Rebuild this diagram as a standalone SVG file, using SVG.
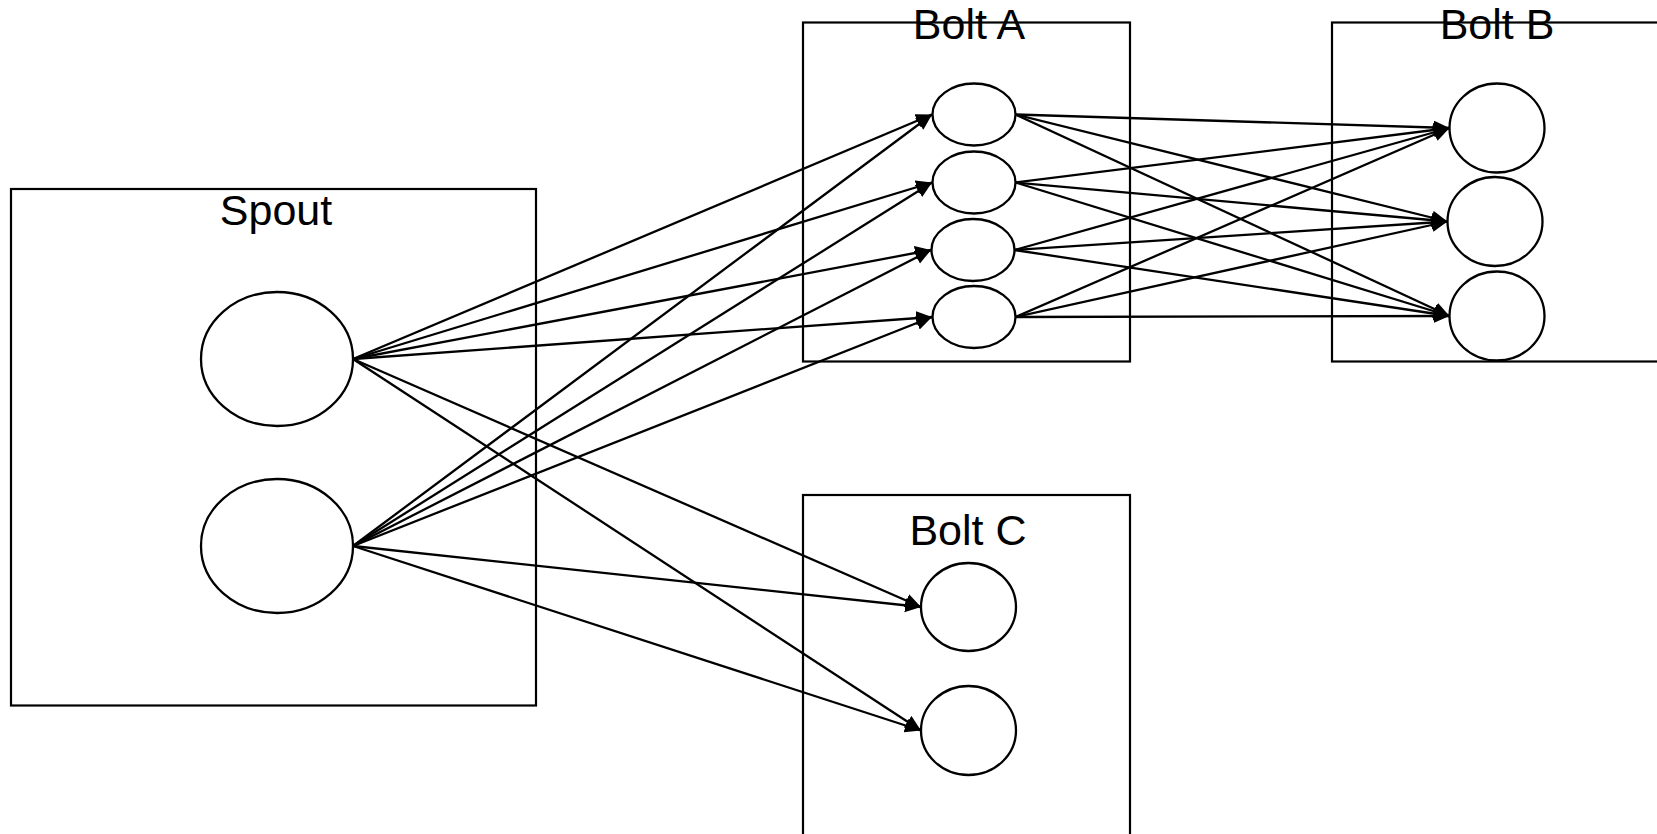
<svg xmlns="http://www.w3.org/2000/svg" width="1657" height="834" viewBox="0 0 1657 834">
<style>
.box{fill:none;stroke:#000;stroke-width:2.2}
.nd{fill:#fff;stroke:#000;stroke-width:2.3}
.lbl{font-family:"Liberation Sans",Arial,sans-serif;font-size:43px;fill:#000;text-anchor:middle}
.cn line{stroke:#000;stroke-width:2.3;marker-end:url(#ah)}
</style>
<defs>
<marker id="ah" markerUnits="userSpaceOnUse" markerWidth="17" markerHeight="15" refX="16" refY="7" orient="auto">
<path d="M0,0 L16,7 L0,14 z" fill="#000"/>
</marker>
</defs>
<rect width="1657" height="834" fill="#fff"/>
<g id="spout">
<rect class="box" x="11" y="189" width="525" height="516.5"/>
<text class="lbl" x="276" y="225">Spout</text>
<ellipse id="s1" class="nd" cx="277" cy="359" rx="76" ry="67"/>
<ellipse id="s2" class="nd" cx="277" cy="546" rx="76" ry="67"/>
</g>
<g id="boltA">
<rect class="box" x="803" y="22.5" width="327" height="339"/>
<text class="lbl" x="969" y="39">Bolt A</text>
<ellipse id="a1" class="nd" cx="974" cy="114.5" rx="41.5" ry="31"/>
<ellipse id="a2" class="nd" cx="974" cy="182.5" rx="41.5" ry="31"/>
<ellipse id="a3" class="nd" cx="973" cy="250" rx="41.5" ry="31"/>
<ellipse id="a4" class="nd" cx="974" cy="317" rx="41.5" ry="31"/>
</g>
<g id="boltB">
<rect class="box" x="1332" y="22.5" width="330" height="339"/>
<text class="lbl" x="1497" y="39">Bolt B</text>
<ellipse id="b1" class="nd" cx="1497" cy="128" rx="47.5" ry="44.5"/>
<ellipse id="b2" class="nd" cx="1495" cy="221.5" rx="47.5" ry="44.5"/>
<ellipse id="b3" class="nd" cx="1497" cy="316" rx="47.5" ry="44.5"/>
</g>
<g id="boltC">
<rect class="box" x="803" y="495" width="327" height="350"/>
<text class="lbl" x="968" y="545">Bolt C</text>
<ellipse id="c1" class="nd" cx="968.5" cy="607" rx="47.5" ry="44"/>
<ellipse id="c2" class="nd" cx="968.5" cy="730.5" rx="47.5" ry="44.5"/>
</g>
<g id="connectors" class="cn">
<line x1="353" y1="359" x2="932" y2="114.5"/>
<line x1="353" y1="359" x2="932" y2="182.5"/>
<line x1="353" y1="359" x2="931" y2="250"/>
<line x1="353" y1="359" x2="932" y2="317"/>
<line x1="353" y1="359" x2="921" y2="607"/>
<line x1="353" y1="359" x2="921" y2="730.5"/>
<line x1="353" y1="546" x2="932" y2="114.5"/>
<line x1="353" y1="546" x2="932" y2="182.5"/>
<line x1="353" y1="546" x2="931" y2="250"/>
<line x1="353" y1="546" x2="932" y2="317"/>
<line x1="353" y1="546" x2="921" y2="607"/>
<line x1="353" y1="546" x2="921" y2="730.5"/>
<line x1="1015.5" y1="114.5" x2="1449.5" y2="128"/>
<line x1="1015.5" y1="114.5" x2="1447.5" y2="221.5"/>
<line x1="1015.5" y1="114.5" x2="1449.5" y2="316"/>
<line x1="1015.5" y1="182.5" x2="1449.5" y2="128"/>
<line x1="1015.5" y1="182.5" x2="1447.5" y2="221.5"/>
<line x1="1015.5" y1="182.5" x2="1449.5" y2="316"/>
<line x1="1014.5" y1="250" x2="1449.5" y2="128"/>
<line x1="1014.5" y1="250" x2="1447.5" y2="221.5"/>
<line x1="1014.5" y1="250" x2="1449.5" y2="316"/>
<line x1="1015.5" y1="317" x2="1449.5" y2="128"/>
<line x1="1015.5" y1="317" x2="1447.5" y2="221.5"/>
<line x1="1015.5" y1="317" x2="1449.5" y2="316"/>
</g>
</svg>
